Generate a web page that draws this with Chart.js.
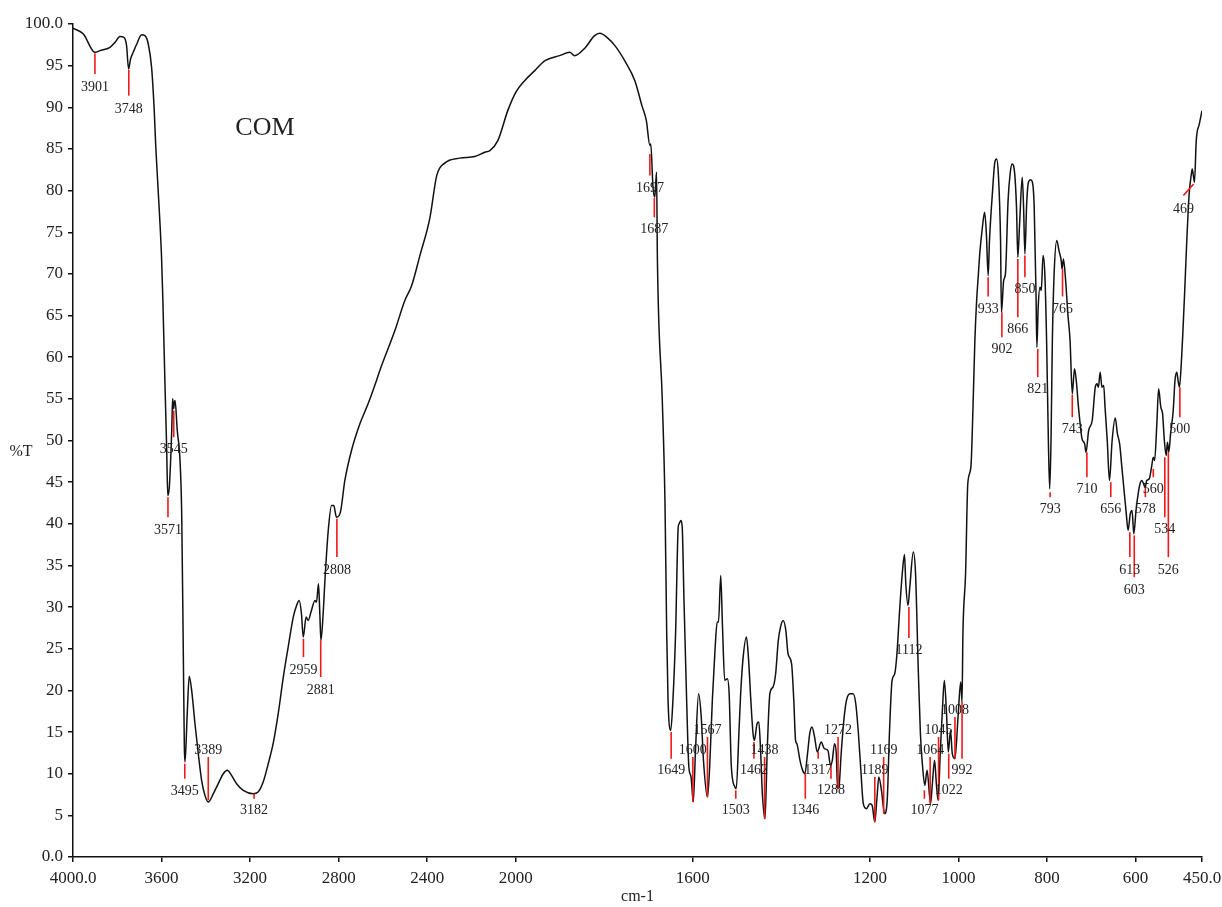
<!DOCTYPE html>
<html>
<head>
<meta charset="utf-8">
<script src="https://cdn.jsdelivr.net/npm/chart.js@4/dist/chart.umd.min.js"></script>
<style>
  html, body { margin: 0; padding: 0; background: #fff; }
  #wrap { width: 1222px; height: 907px; }
</style>
</head>
<body>
<div id="wrap"><canvas id="myChart"></canvas></div>
<script>
// spectrum, wavenumber (cm-1) and %T
var wavenumber = [
  4000,3953,3901,3878,3833,3810,3788,3770,3758,3749,3740,3728,3712,3690,3675,3660,3645,3633,3626,3611,3600,
  3594,3585,3577,3572,3565,3554,3550,3545,3543,3539,3529,3517,3509,3502,3497,3494,3484,3475,3464,3449,3434,3419,3404,3389,
  3366,3344,3321,3303,3284,3261,3231,3186,3164,3141,3118,3096,3073,3050,3028,3005,2990,2978,2968,2960,
  2947,2938,2923,2907,2900,2891,2885,2880,2870,2862,2847,2832,2822,2810,2792,2772,2742,2704,2667,2629,
  2614,2546,2501,2470,2433,2388,2357,2321,2253,2185,2140,2117,2081,2036,2000,
  1980,1957,1934,1901,1878,1867,1844,1822,1810,1794,1776,1754,1731,1715,1705,1697,1695,1690,1686,1682,1680,
  1669,1663,1659,1656,1650,1645,1639,1633,1631,1627,1624,1620,1614,1609,1604,1599,1594,1587,1581,1576,1567,1562,1556,1550,1545,1542,1537,1533,1528,1522,1518,1513,1505,1502,
  1496,1492,1487,1479,1474,1469,1464,1461,1455,1451,1447,1443,1437,1432,1426,1419,1413,1407,1402,1396,1390,1385,1377,1372,1368,1365,1358,1352,1347,1341,1336,1331,1325,1319,
  1310,1303,1295,1289,1285,1280,1276,1273,1270,1265,1259,1253,1245,1238,1232,1226,1221,1215,1208,1200,1195,1189,1184,1180,1174,1167,1161,1156,
  1150,1144,1139,1133,1127,1122,1119,1114,1110,1102,1097,1091,1086,1081,1076,1071,1063,1059,1054,1050,1046,1041,1036,1032,1027,1023,1018,1014,1008,1001,995,992,990,
  984,979,972,967,963,959,955,952,946,941,937,933,930,923,918,914,910,905,903,898,894,888,883,879,873,869,866,862,856,853,850,
  846,842,837,833,829,825,823,820,816,813,809,805,801,797,794,791,788,784,778,773,768,766,763,758,753,748,743,738,734,729,726,721,715,712,
  706,698,691,687,684,680,676,672,669,664,659,653,646,641,636,631,626,621,617,612,608,604,599,593,590,586,
  578,575,569,564,560,557,552,548,543,539,535,531,528,525,521,515,511,507,504,501,496,493,489,485,479,474,472,467,463,456,450
];
var transmittance = [
  99.5,98.8,96.6,96.8,97.2,97.8,98.5,98.4,97.4,94.6,95.8,96.6,97.6,98.7,98.6,97.6,94.8,89.6,85.2,78.0,72.0,
  66.8,57.2,49.2,43.4,44.4,51.2,55.0,53.8,54.4,54.8,51.2,47.8,41.2,25.2,13.2,11.4,17.2,21.7,20.0,16.0,12.4,9.2,7.4,6.6,
  7.6,8.8,10.0,10.4,9.8,8.8,8.0,7.6,7.8,9.0,11.2,13.6,17.2,21.6,25.2,28.8,30.2,30.8,29.2,26.4,
  28.8,28.4,29.6,30.8,30.6,32.8,29.2,26.0,29.2,33.2,39.2,42.2,42.2,40.8,41.4,45.2,48.8,52.0,54.4,57.2,
  58.4,63.2,66.8,68.6,72.2,76.7,81.8,83.3,83.9,84.1,84.6,84.8,86.0,89.6,91.8,
  93.2,94.4,95.6,96.2,96.6,96.2,97.1,98.6,98.9,98.4,97.4,95.6,93.2,90.2,88.4,85.4,85.6,80.4,79.2,82.2,71.6,
  54.8,42.8,26.8,18.8,15.2,18.8,26.8,39.6,40.0,40.4,39.6,30.8,18.8,10.8,9.6,6.6,12.8,19.6,16.8,11.6,7.2,10.8,18.8,24.8,28.2,28.2,33.8,27.6,21.2,21.4,19.6,10.8,8.4,8.2,
  14.8,19.6,23.6,26.4,23.6,18.8,14.8,14.0,16.0,16.2,12.8,7.6,4.6,12.8,19.6,20.4,22.0,26.0,27.6,28.4,27.2,24.4,23.2,18.8,14.0,13.6,11.6,10.4,10.0,12.4,14.8,15.6,14.4,12.6,
  13.8,13.0,12.8,11.0,11.6,13.6,12.4,8.2,8.4,12.4,16.4,18.8,19.6,19.6,18.4,14.8,10.8,6.4,5.8,6.4,6.2,4.2,7.2,9.6,8.0,5.2,6.8,14.8,
  21.2,22.0,24.4,29.6,34.0,36.3,32.8,30.2,32.4,36.6,34.0,22.8,14.8,10.8,8.6,10.4,6.4,8.8,11.6,8.8,6.8,12.8,18.0,21.2,17.2,12.6,15.2,12.4,11.8,16.8,21.0,18.6,26.8,
  34.0,44.8,46.8,54.4,62.0,66.8,70.0,72.4,75.6,77.4,74.8,69.8,74.0,80.0,83.4,83.8,82.0,74.0,65.4,69.2,70.0,78.8,82.2,83.2,82.0,78.0,72.0,76.0,81.6,78.0,72.4,
  78.4,81.0,81.3,81.0,78.0,68.0,61.2,66.0,68.4,68.0,72.2,70.0,62.0,50.0,44.2,50.0,62.0,70.0,74.0,72.8,71.6,70.6,71.8,69.2,65.2,62.0,55.6,58.6,57.2,54.0,52.4,50.2,49.6,48.6,
  51.2,52.4,56.4,56.8,56.4,58.2,56.4,56.6,54.0,50.0,45.2,50.0,52.7,50.8,49.6,46.8,44.0,41.2,39.2,41.2,41.6,38.8,41.6,44.0,44.8,45.2,
  44.4,45.2,45.4,46.8,48.0,47.6,52.0,56.2,54.0,53.2,50.0,48.2,49.8,48.6,50.8,53.6,57.2,58.2,57.2,56.4,60.0,63.2,68.0,73.2,79.6,82.0,82.6,81.0,86.0,88.0,89.6
];

// peak marks: wavenumber, red line from/to (%T), label centre (%T)
var peakWn     = [3901,3748,3571,3545,3495,3389,3182,2959,2881,2808,1697,1687,1649,1600,1567,1503,1462,1438,1346,1317,1288,1272,1189,1169,1112,1077,1064,1045,1022,1008,992,933,902,866,850,821,793,765,743,710,656,613,603,578,560,534,526,500,469];
var peakTop    = [96.5,94.5,43.2,53.6,11.2,12.0,7.6,26.2,26.0,40.6,84.4,79.1,15.0,12.0,14.4,8.0,13.8,12.0,10.0,12.6,11.0,14.4,9.6,12.0,30.0,8.0,12.0,14.4,12.4,16.8,18.6,69.6,65.4,71.8,72.2,61.0,43.8,70.6,55.5,48.6,45.0,39.0,38.6,44.4,46.6,48.0,48.6,56.4,80.8];
var peakBottom = [94.0,91.4,40.8,50.4,9.4,6.8,7.0,24.0,21.6,36.0,81.8,76.8,11.8,6.6,7.2,7.0,11.8,4.6,7.0,11.8,9.4,8.2,4.2,5.2,26.3,7.0,6.4,6.8,9.4,11.8,11.8,67.3,62.4,64.8,69.6,57.6,43.2,67.3,52.8,45.6,43.2,36.0,33.6,43.2,45.6,40.8,36.0,52.8,79.4];
var peakText   = [92.4,89.8,39.2,49.0,7.9,12.8,5.6,22.4,20.0,34.4,80.3,75.4,10.4,12.8,15.2,5.6,10.4,12.8,5.6,10.4,8.0,15.2,10.4,12.8,24.8,5.6,12.8,15.2,8.0,17.6,10.4,65.8,60.9,63.3,68.2,56.1,41.7,65.8,51.3,44.1,41.7,34.4,32.0,41.7,44.1,39.3,34.4,51.3,77.8];
var peakSlant  = { 469: 23 };

var xTickValues = [4000, 3600, 3200, 2800, 2400, 2000, 1600, 1200, 1000, 800, 600, 450];
var xTickLabels = ['4000.0', '3600', '3200', '2800', '2400', '2000', '1600', '1200', '1000', '800', '600', '450.0'];
var yTickValues = [0, 5, 10, 15, 20, 25, 30, 35, 40, 45, 50, 55, 60, 65, 70, 75, 80, 85, 90, 95, 100];
var yTickLabels = ['0.0', '5', '10', '15', '20', '25', '30', '35', '40', '45', '50', '55', '60', '65', '70', '75', '80', '85', '90', '95', '100.0'];

var sampleName = 'COM';
var sampleNameAt = [3133, 87.5];

var serif = '"Liberation Serif", "Times New Roman", serif';

// the axis is expanded 2x below 2000 cm-1
function axisPos(w) {
  return w > 2000 ? 2000 + (w - 2000) / 2 : w;
}

var points = [];
for (var i = 0; i < wavenumber.length; i++) {
  points.push({ x: axisPos(wavenumber[i]), y: transmittance[i] });
}

var peakPlugin = {
  id: 'peaks',
  afterDatasetsDraw: function (chart) {
    var ctx = chart.ctx;
    var sx = chart.scales.x, sy = chart.scales.y;
    ctx.save();
    ctx.strokeStyle = '#f01818';
    ctx.lineWidth = 1.6;
    for (var i = 0; i < peakWn.length; i++) {
      var w2 = peakWn[i] + (peakSlant[peakWn[i]] || 0);
      ctx.beginPath();
      ctx.moveTo(sx.getPixelForValue(axisPos(peakWn[i])), sy.getPixelForValue(peakTop[i]));
      ctx.lineTo(sx.getPixelForValue(axisPos(w2)), sy.getPixelForValue(peakBottom[i]));
      ctx.stroke();
    }
    ctx.fillStyle = '#222';
    ctx.font = '14px ' + serif;
    ctx.textAlign = 'center';
    ctx.textBaseline = 'middle';
    for (var j = 0; j < peakWn.length; j++) {
      var wt = peakWn[j] + (peakSlant[peakWn[j]] || 0);
      ctx.fillText(String(peakWn[j]), sx.getPixelForValue(axisPos(wt)), sy.getPixelForValue(peakText[j]));
    }
    ctx.font = '26px ' + serif;
    ctx.fillText(sampleName, sx.getPixelForValue(axisPos(sampleNameAt[0])), sy.getPixelForValue(sampleNameAt[1]));
    ctx.font = '16px ' + serif;
    ctx.fillText('%T', 21, 452);
    ctx.fillText('cm-1', (chart.chartArea.left + chart.chartArea.right) / 2, 897);
    ctx.restore();
  }
};

var myChart = new Chart(document.getElementById('myChart').getContext('2d'), {
  type: 'line',
  data: {
    datasets: [{
      data: points,
      borderColor: '#111',
      borderWidth: 1.5,
      pointRadius: 0,
      fill: false,
      cubicInterpolationMode: 'monotone'
    }]
  },
  options: {
    responsive: true,
    maintainAspectRatio: false,
    devicePixelRatio: 1,
    animation: false,
    layout: { padding: { top: 24, right: 20, left: 0, bottom: 0 } },
    plugins: { legend: { display: false }, tooltip: { enabled: false } },
    scales: {
      x: {
        type: 'linear',
        reverse: true,
        min: axisPos(450),
        max: axisPos(4000),
        afterBuildTicks: function (s) {
          s.ticks = xTickValues.map(function (v) { return { value: axisPos(v) }; });
        },
        afterFit: function (s) {
          s.height = 50;
          s.paddingLeft = 0;
          s.paddingRight = 0;
        },
        ticks: {
          autoSkip: false,
          maxRotation: 0,
          padding: 6,
          color: '#222',
          font: { family: serif, size: 17 },
          callback: function (v, idx) { return xTickLabels[idx]; }
        },
        grid: { drawOnChartArea: false, drawTicks: true, tickLength: 5, color: '#111', lineWidth: 1.5 },
        border: { display: true, color: '#111', width: 1.5 }
      },
      y: {
        min: 0,
        max: 100,
        afterBuildTicks: function (s) {
          s.ticks = yTickValues.map(function (v) { return { value: v }; });
        },
        afterFit: function (s) {
          s.width = 73;
          s.paddingTop = 0;
          s.paddingBottom = 0;
        },
        ticks: {
          autoSkip: false,
          padding: 5,
          color: '#222',
          font: { family: serif, size: 17 },
          callback: function (v, idx) { return yTickLabels[idx]; }
        },
        grid: { drawOnChartArea: false, drawTicks: true, tickLength: 5, color: '#111', lineWidth: 1.5 },
        border: { display: true, color: '#111', width: 1.5 }
      }
    }
  },
  plugins: [peakPlugin]
});
</script>
</body>
</html>
